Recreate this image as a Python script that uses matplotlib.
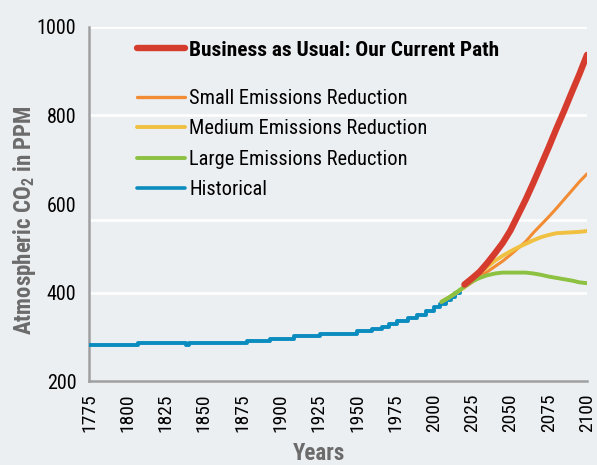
import matplotlib
matplotlib.use("Agg")
import matplotlib.pyplot as plt
from matplotlib import font_manager as fm
from matplotlib.lines import Line2D

# ---------------- data ----------------
hist_years = [1775, 1807, 1838, 1840, 1878, 1893, 1909, 1926, 1950, 1960, 1966,
              1971, 1976, 1983, 1989, 1995, 2000, 2004, 2008, 2011, 2014, 2017]
hist_vals = [281, 286, 282, 286, 291, 296, 302, 307, 313, 318, 323,
             329, 335, 342, 350, 358, 367, 375, 383, 390, 398, 405]

scen_years = [2005, 2010, 2015, 2020, 2025, 2030, 2035, 2040, 2045, 2050,
              2055, 2060, 2065, 2070, 2075, 2080, 2085, 2090, 2095, 2100]
large_vals = [379, 389, 401, 413, 425, 433, 439, 443, 445, 445,
              445, 445, 443, 440, 436, 433, 430, 427, 423, 421]
medium_vals = [379, 389, 400, 413, 428, 443, 458, 472, 483, 493,
               502, 510, 518, 525, 530, 534, 535, 536, 537, 539]
small_vals = [379, 389, 400, 411, 423, 436, 447, 459, 471, 485,
              500, 515, 535, 553, 571, 590, 610, 630, 650, 668]

bau_years = [2020, 2025, 2030, 2035, 2040, 2045, 2050, 2055, 2060, 2065,
             2070, 2075, 2080, 2085, 2090, 2095, 2100]
bau_vals = [418, 432, 447, 467, 489, 512, 540, 575, 610, 648,
            688, 728, 770, 810, 852, 893, 937]

x_ticks = list(range(1775, 2101, 25))
y_ticks = [200, 400, 600, 800, 1000]
grid_levels = [400, 564, 800, 1000]

labels = ["Business as Usual: Our Current Path", "Small Emissions Reduction",
          "Medium Emissions Reduction", "Large Emissions Reduction", "Historical"]

# ---------------- style ----------------
names = {f.name for f in fm.fontManager.ttflist}
font = "DejaVu Sans"
for cand in ["Roboto Condensed", "Liberation Sans Narrow", "Open Sans Condensed",
             "Noto Sans Condensed", "DejaVu Sans Condensed"]:
    if cand in names:
        font = cand
        break
plt.rcParams["font.family"] = [font, "DejaVu Sans"]
plt.rcParams["mathtext.fontset"] = "custom"
plt.rcParams["mathtext.rm"] = font
plt.rcParams["mathtext.bf"] = font + ":bold"
plt.rcParams["mathtext.default"] = "regular"

BG = "#eceff2"
C_RED = "#d63c2e"
C_ORG = "#f28c34"
C_YEL = "#f0c040"
C_GRN = "#8cc142"
C_BLU = "#0a8cbf"
AX_GRAY = "#a0a0a0"
LBL_GRAY = "#6b6b6b"

fig = plt.figure(figsize=(5.97, 4.65), dpi=100, facecolor=BG)
ax = fig.add_axes([89/597, 1-381/465, 498/597, 354/465])
ax.set_facecolor(BG)

for g in grid_levels:
    ax.axhline(g, color="white", lw=1.8, zorder=1)

ax.plot(hist_years, hist_vals, color=C_BLU, lw=2.8, drawstyle="steps-post",
        zorder=3, solid_capstyle="round")
ax.plot(scen_years, small_vals, color=C_ORG, lw=2.2, zorder=4, solid_capstyle="round")
ax.plot(scen_years, medium_vals, color=C_YEL, lw=2.8, zorder=5, solid_capstyle="round")
ax.plot(scen_years, large_vals, color=C_GRN, lw=2.8, zorder=6, solid_capstyle="round")
ax.plot(bau_years, bau_vals, color=C_RED, lw=4.6, zorder=7, solid_capstyle="round")

ax.set_xlim(1775, 2100)
ax.set_ylim(200, 1000)
ax.set_xticks(x_ticks)
ax.set_xticklabels([str(t) for t in x_ticks], rotation=90, fontsize=14)
ax.set_yticks(y_ticks)
ax.set_yticklabels([str(t) for t in y_ticks], fontsize=14.5)
ax.tick_params(axis="both", length=0, colors="black")
ax.tick_params(axis="x", pad=9)
ax.tick_params(axis="y", pad=9)

for s in ["top", "right"]:
    ax.spines[s].set_visible(False)
for s in ["left", "bottom"]:
    ax.spines[s].set_color(AX_GRAY)
    ax.spines[s].set_linewidth(1.8)

ax.set_ylabel("Atmospheric CO$_2$ in PPM", fontsize=16.5, fontweight="bold",
              color=LBL_GRAY)
ax.yaxis.set_label_coords((38-89)/498, (381-220)/354)
ax.set_xlabel("Years", fontsize=16.5, fontweight="bold", color=LBL_GRAY)
ax.xaxis.set_label_coords((319-89)/498, (381-442)/354)

h1 = [Line2D([], [], color=C_RED, lw=4.6, solid_capstyle="round")]
leg1 = ax.legend(h1, labels[:1], loc="center left",
                 bbox_to_anchor=((137-89)/498, (381-50)/354),
                 frameon=False, borderpad=0, borderaxespad=0,
                 handlelength=2.25, handletextpad=0.2,
                 prop={"size": 15.4, "weight": "bold"})
ax.add_artist(leg1)

h2 = [Line2D([], [], color=C_ORG, lw=2.4, solid_capstyle="round"),
      Line2D([], [], color=C_YEL, lw=2.8, solid_capstyle="round"),
      Line2D([], [], color=C_GRN, lw=2.8, solid_capstyle="round"),
      Line2D([], [], color=C_BLU, lw=2.6, solid_capstyle="round")]
ax.legend(h2, labels[1:], loc="center left",
          bbox_to_anchor=((137-89)/498, (381-144)/354),
          frameon=False, borderpad=0, borderaxespad=0,
          handlelength=2.35, handletextpad=0.2, labelspacing=0.56,
          prop={"size": 14.7})

fig.savefig("out.png", dpi=100, facecolor=BG)
